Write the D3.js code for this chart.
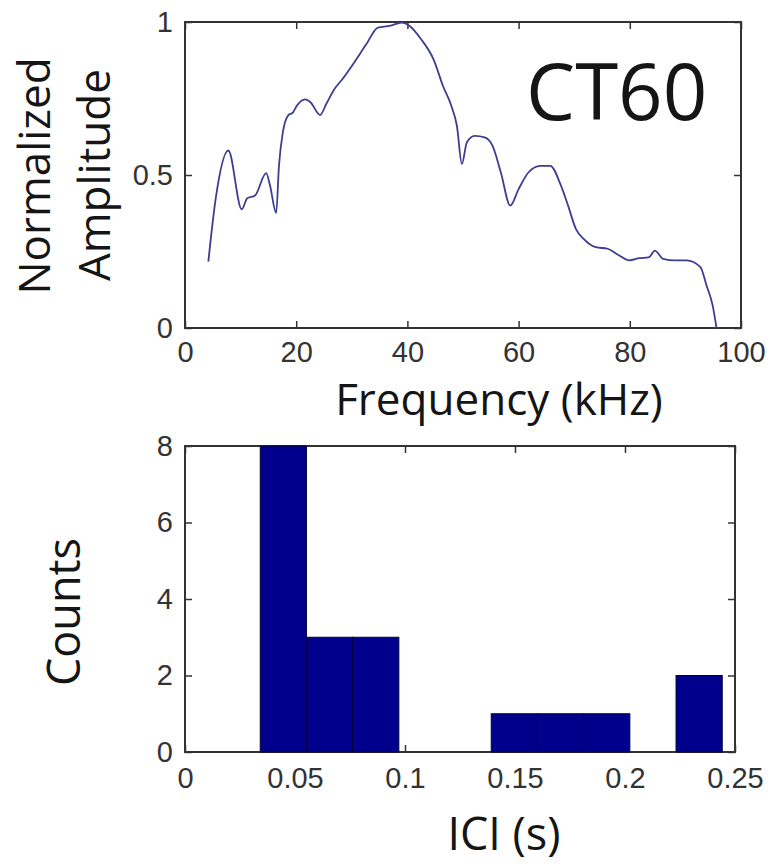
<!DOCTYPE html>
<html lang="en">
  <head>
    <meta charset="UTF-8" />
    <title>CT60</title>
    <style>
      body { margin: 0; background: #fff; }
      .tick text { font-family: "Liberation Sans", Arial, sans-serif; font-size: 29px; fill: #333; }
      .tick line { stroke: #333; stroke-width: 1.5; }
      .label { font-family: "Open Sans", sans-serif; fill: #151515; }
    </style>
  </head>
  <body>
    <svg id="svg" width="770" height="865"></svg>

    <script src="https://cdn.jsdelivr.net/npm/d3@7"></script>
    <script>
      const WIDTH = 770;
      const HEIGHT = 865;

      // spectrum (top panel)
      const FREQ_KHZ = [
        4.2, 5.5, 7.8, 10.2, 11.2, 12.6, 14.6, 15.3, 16.4, 16.9, 17.6, 18.6,
        19.4, 20.1, 21.6, 22.6, 24.3, 25.4, 27.0, 28.3, 30.4, 32.6, 34.7, 36.8,
        39.0, 40.4, 42.5, 44.7, 46.4, 47.9, 48.9, 49.8, 50.7, 52.1, 53.9, 55.3,
        56.8, 58.5, 60.0, 61.8, 63.9, 65.7, 67.5, 68.9, 70.3, 71.7, 73.9, 76.0,
        78.1, 79.9, 81.7, 83.5, 84.5, 86.0, 88.1, 90.2, 92.7, 93.8, 94.9, 95.6,
      ];
      const AMPLITUDE = [
        0.217, 0.42, 0.58, 0.388, 0.424, 0.433, 0.506, 0.465, 0.376, 0.53, 0.64,
        0.696, 0.704, 0.726, 0.747, 0.737, 0.696, 0.732, 0.784, 0.813, 0.867,
        0.927, 0.982, 0.987, 0.998, 0.987, 0.943, 0.878, 0.791, 0.726, 0.661,
        0.536, 0.607, 0.628, 0.623, 0.596, 0.509, 0.4, 0.454, 0.509, 0.53, 0.53,
        0.471, 0.4, 0.324, 0.291, 0.264, 0.259, 0.237, 0.221, 0.228, 0.232,
        0.253, 0.226, 0.221, 0.221, 0.199, 0.139, 0.074, 0.0,
      ];
      const FREQ_TICKS = [0, 20, 40, 60, 80, 100];
      const AMP_TICKS = [0, 0.5, 1];

      // ICI histogram (bottom panel)
      const ICI_BIN_EDGES = [
        0.0342, 0.0552, 0.0762, 0.0972, 0.1182, 0.1392, 0.1602, 0.1812, 0.2022,
        0.2232, 0.2442,
      ];
      const ICI_COUNTS = [8, 3, 3, 0, 0, 1, 1, 1, 0, 2];
      const ICI_TICKS = [0, 0.05, 0.1, 0.15, 0.2, 0.25];
      const COUNT_TICKS = [0, 2, 4, 6, 8];

      const svg = d3.select("#svg");

      // draws the MATLAB style box with inward ticks on all four sides
      function drawFrame(g, x, y, xTicks, yTicks, xFmt, yFmt, pad) {
        const [x0, x1] = x.range();
        const [y0, y1] = y.range();
        const TICK = 7;

        g.append("g")
          .attr("transform", `translate(0, ${y0})`)
          .call(d3.axisBottom(x).tickValues(xTicks).tickSize(-TICK).tickPadding(pad).tickFormat(xFmt))
          .call((a) => a.select(".domain").remove());
        g.append("g")
          .attr("transform", `translate(0, ${y1})`)
          .call(d3.axisTop(x).tickValues(xTicks).tickSize(-TICK).tickFormat(""))
          .call((a) => a.select(".domain").remove());
        g.append("g")
          .attr("transform", `translate(${x0}, 0)`)
          .call(d3.axisLeft(y).tickValues(yTicks).tickSize(-TICK).tickPadding(12).tickFormat(yFmt))
          .call((a) => a.select(".domain").remove());
        g.append("g")
          .attr("transform", `translate(${x1}, 0)`)
          .call(d3.axisRight(y).tickValues(yTicks).tickSize(-TICK).tickFormat(""))
          .call((a) => a.select(".domain").remove());

        g.append("rect")
          .attr("x", x0)
          .attr("y", y1)
          .attr("width", x1 - x0)
          .attr("height", y0 - y1)
          .attr("fill", "none")
          .attr("stroke", "#333")
          .attr("stroke-width", 2);
      }

      // ---------- top: spectrum ----------
      const xFreq = d3.scaleLinear().domain([0, 100]).range([185, 741]);
      const yAmp = d3.scaleLinear().domain([0, 1]).range([328, 22]);

      const topPanel = svg.append("g");
      drawFrame(topPanel, xFreq, yAmp, FREQ_TICKS, AMP_TICKS, d3.format("d"), d3.format("~g"), 13);

      const spectrum = FREQ_KHZ.map((f, i) => ({ f, a: AMPLITUDE[i] }));
      const line = d3
        .line()
        .x((d) => xFreq(d.f))
        .y((d) => yAmp(d.a))
        .curve(d3.curveMonotoneX);

      topPanel
        .append("path")
        .attr("d", line(spectrum))
        .attr("fill", "none")
        .attr("stroke", "#3d3d92")
        .attr("stroke-width", 1.8);

      topPanel
        .append("text")
        .attr("class", "label")
        .attr("x", 526)
        .attr("y", 120)
        .attr("font-size", 78)
        .text("CT60");

      topPanel
        .append("text")
        .attr("class", "label")
        .attr("x", 499)
        .attr("y", 415)
        .attr("text-anchor", "middle")
        .attr("font-size", 44)
        .text("Frequency (kHz)");

      topPanel
        .append("text")
        .attr("class", "label")
        .attr("transform", "translate(50, 176) rotate(-90)")
        .attr("text-anchor", "middle")
        .attr("font-size", 44)
        .text("Normalized");

      topPanel
        .append("text")
        .attr("class", "label")
        .attr("transform", "translate(110, 175) rotate(-90)")
        .attr("text-anchor", "middle")
        .attr("font-size", 44)
        .text("Amplitude");

      // ---------- bottom: ICI histogram ----------
      const xIci = d3.scaleLinear().domain([0, 0.25]).range([185, 735]);
      const yCount = d3.scaleLinear().domain([0, 8]).range([752, 446]);

      const bottomPanel = svg.append("g");
      drawFrame(bottomPanel, xIci, yCount, ICI_TICKS, COUNT_TICKS, d3.format("~g"), d3.format("d"), 15);

      const bins = ICI_COUNTS.map((c, i) => ({
        x0: ICI_BIN_EDGES[i],
        x1: ICI_BIN_EDGES[i + 1],
        count: c,
      })).filter((d) => d.count > 0);

      bottomPanel
        .selectAll("rect.bar")
        .data(bins)
        .join("rect")
        .attr("class", "bar")
        .attr("x", (d) => xIci(d.x0))
        .attr("width", (d) => xIci(d.x1) - xIci(d.x0))
        .attr("y", (d) => yCount(d.count))
        .attr("height", (d) => yCount(0) - yCount(d.count))
        .attr("fill", "#00008c")
        .attr("stroke", "#00003a")
        .attr("stroke-width", 1);

      bottomPanel
        .append("text")
        .attr("class", "label")
        .attr("x", 504)
        .attr("y", 850)
        .attr("text-anchor", "middle")
        .attr("font-size", 45)
        .text("ICI (s)");

      bottomPanel
        .append("text")
        .attr("class", "label")
        .attr("transform", "translate(80, 612) rotate(-90)")
        .attr("text-anchor", "middle")
        .attr("font-size", 45)
        .text("Counts");
    </script>
  </body>
</html>
